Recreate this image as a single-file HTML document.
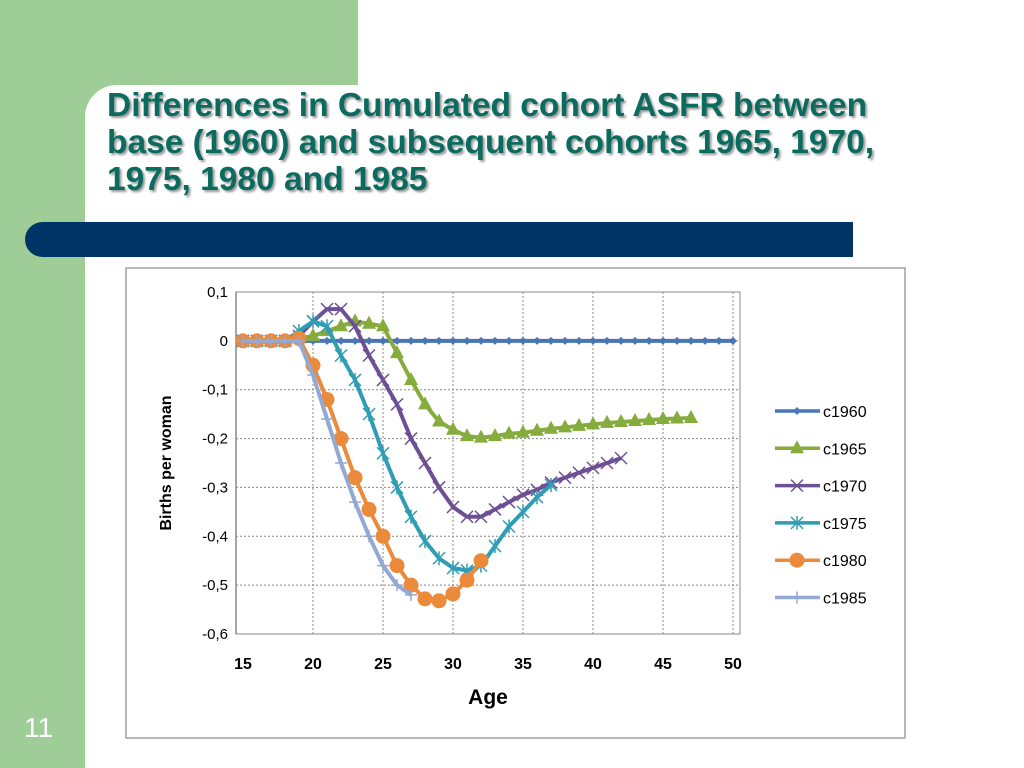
<!DOCTYPE html>
<html><head><meta charset="utf-8"><style>
body{margin:0;width:1024px;height:768px;overflow:hidden;background:#9fcd97;font-family:"Liberation Sans",sans-serif;position:relative}
#white{position:absolute;left:85px;top:85px;width:939px;height:683px;background:#fff;border-top-left-radius:32px}
#topwhite{position:absolute;left:358px;top:0;width:666px;height:90px;background:#fff}
#title{position:absolute;left:107px;top:87px;font-size:33.5px;font-weight:bold;color:#0b6b5e;line-height:37px;text-shadow:2px 2px 2px #9a9a9a;white-space:nowrap}
#bar{position:absolute;left:25px;top:222px;width:828px;height:35px;background:#003366;border-radius:18px 0 0 18px}
#num{position:absolute;left:24px;top:712px;font-size:28px;color:#fff}
svg{position:absolute;left:0;top:0}
</style></head><body>
<div id="white"></div>
<div id="topwhite"></div>
<div id="title">Differences in Cumulated cohort ASFR between<br>base (1960) and subsequent cohorts 1965, 1970,<br>1975, 1980 and 1985</div>
<div id="bar"></div>
<div id="num">11</div>
<svg width="1024" height="768" id="chart">
<rect x="126" y="268" width="779" height="470" fill="#fff" stroke="#a0a0a0" stroke-width="1.5"/>
</svg>
<script>
const ages=[15,16,17,18,19,20,21,22,23,24,25,26,27,28,29,30,31,32,33,34,35,36,37,38,39,40,41,42,43,44,45,46,47,48,49,50];
const c1960=[0,0,0,0,0,0,0,0,0,0,0,0,0,0,0,0,0,0,0,0,0,0,0,0,0,0,0,0,0,0,0,0,0,0,0,0];
const c1965=[0,0,0,0,0.005,0.01,0.02,0.03,0.04,0.035,0.03,-0.025,-0.08,-0.13,-0.165,-0.182,-0.195,-0.198,-0.195,-0.19,-0.188,-0.184,-0.18,-0.177,-0.174,-0.171,-0.168,-0.166,-0.164,-0.162,-0.16,-0.159,-0.158];
const c1970=[0,0,0,0,0.01,0.04,0.065,0.065,0.03,-0.03,-0.08,-0.13,-0.2,-0.25,-0.3,-0.34,-0.36,-0.36,-0.345,-0.33,-0.315,-0.305,-0.29,-0.28,-0.27,-0.26,-0.25,-0.24];
const c1975=[0,0,0,0,0.02,0.04,0.03,-0.03,-0.08,-0.15,-0.23,-0.3,-0.36,-0.41,-0.445,-0.465,-0.47,-0.46,-0.42,-0.38,-0.35,-0.32,-0.295];
const c1980=[0,0,0,0,0.005,-0.05,-0.12,-0.2,-0.28,-0.345,-0.4,-0.46,-0.5,-0.528,-0.532,-0.518,-0.49,-0.45];
const c1985=[0,0,0,0,0,-0.07,-0.16,-0.25,-0.33,-0.4,-0.46,-0.5,-0.52];
const yTicks=["0,1","0","-0,1","-0,2","-0,3","-0,4","-0,5","-0,6"];
const yVals=[0.1,0,-0.1,-0.2,-0.3,-0.4,-0.5,-0.6];
const xTicks=[15,20,25,30,35,40,45,50];
const names=["c1960","c1965","c1970","c1975","c1980","c1985"];
const colors=["#4a76b8","#86ac3e","#6d4f94","#2f9db3","#ea8a3a","#93a9d4"];
const series=[c1960,c1965,c1970,c1975,c1980,c1985];
const markers=["diamond","tri","x","star","circle","plus"];
const NS="http://www.w3.org/2000/svg";
const svg=document.getElementById('chart');
const X0=236,X1=740,Y0=292,Y1=634;
const xs=a=>243+(a-15)*(733-243)/35;
const ys=v=>Y0+(0.1-v)/0.7*(Y1-Y0);
function mk(t,at){const e=document.createElementNS(NS,t);for(const k in at)e.setAttribute(k,at[k]);svg.appendChild(e);return e;}
yVals.forEach((v,i)=>{
  if(i>0){const g=mk('line',{x1:X0,x2:X1,y1:ys(v),y2:ys(v),stroke:'#888','stroke-dasharray':'2,2'});
  
  }
  const t=mk('text',{x:X0-8,y:ys(v)+5,'text-anchor':'end','font-size':15,fill:'#000'});t.textContent=yTicks[i];
  
  
});
xTicks.forEach(a=>{
  if(a>15){const g=mk('line',{x1:xs(a),x2:xs(a),y1:Y0,y2:Y1,stroke:'#888','stroke-dasharray':'2,2'});
  
  }
  const t=mk('text',{x:xs(a),y:Y1+35,'text-anchor':'middle','font-size':16,'font-weight':'bold'});t.textContent=a;
  
  
});
mk('rect',{x:X0,y:Y0,width:X1-X0,height:Y1-Y0,fill:'none',stroke:'#888'});
mk('line',{x1:X0,x2:X0,y1:Y0,y2:Y1,stroke:'#888','stroke-width':1.5});
let t=mk('text',{x:488,y:704,'text-anchor':'middle','font-size':21,'font-weight':'bold'});t.textContent='Age';


t=mk('text',{x:0,y:0,'text-anchor':'middle','font-size':16,'font-weight':'bold',transform:'translate(171,463) rotate(-90)'});t.textContent='Births per woman';


function marker(type,x,y,c){
  let e;
  if(type=='diamond')e=mk('polygon',{points:`${x},${y-4} ${x+4},${y} ${x},${y+4} ${x-4},${y}`,fill:c});
  else if(type=='tri')e=mk('polygon',{points:`${x},${y-8} ${x+7},${y+5} ${x-7},${y+5}`,fill:c});
  else if(type=='circle')e=mk('circle',{cx:x,cy:y,r:7.5,fill:c});
  else if(type=='x')e=mk('path',{d:`M${x-6} ${y-6}L${x+6} ${y+6}M${x-6} ${y+6}L${x+6} ${y-6}`,stroke:c,'stroke-width':1.5});
  else if(type=='star')e=mk('path',{d:`M${x-6} ${y-6}L${x+6} ${y+6}M${x-6} ${y+6}L${x+6} ${y-6}M${x} ${y-7}L${x} ${y+7}`,stroke:c,'stroke-width':1.5});
  else e=mk('path',{d:`M${x-6} ${y}L${x+6} ${y}M${x} ${y-6}L${x} ${y+6}`,stroke:c,'stroke-width':1.5});
  return e;
}
series.forEach((d,si)=>{
  const pts=d.map((v,i)=>xs(ages[i])+','+ys(v)).join(' ');
  const l=mk('polyline',{points:pts,fill:'none',stroke:colors[si],'stroke-width':4,'stroke-linejoin':'round'});
  
  
  d.forEach((v,i)=>{const m=marker(markers[si],xs(ages[i]),ys(v),colors[si]);
    
    });
  const ly=411+si*37.3;
  const ll=mk('line',{x1:775,x2:820,y1:ly,y2:ly,stroke:colors[si],'stroke-width':3.5});
  
  
  marker(markers[si],797,ly,colors[si]);
  const lt=mk('text',{x:823,y:ly+6,'font-size':16});lt.textContent=names[si];
  
  
});
</script>
</body></html>
